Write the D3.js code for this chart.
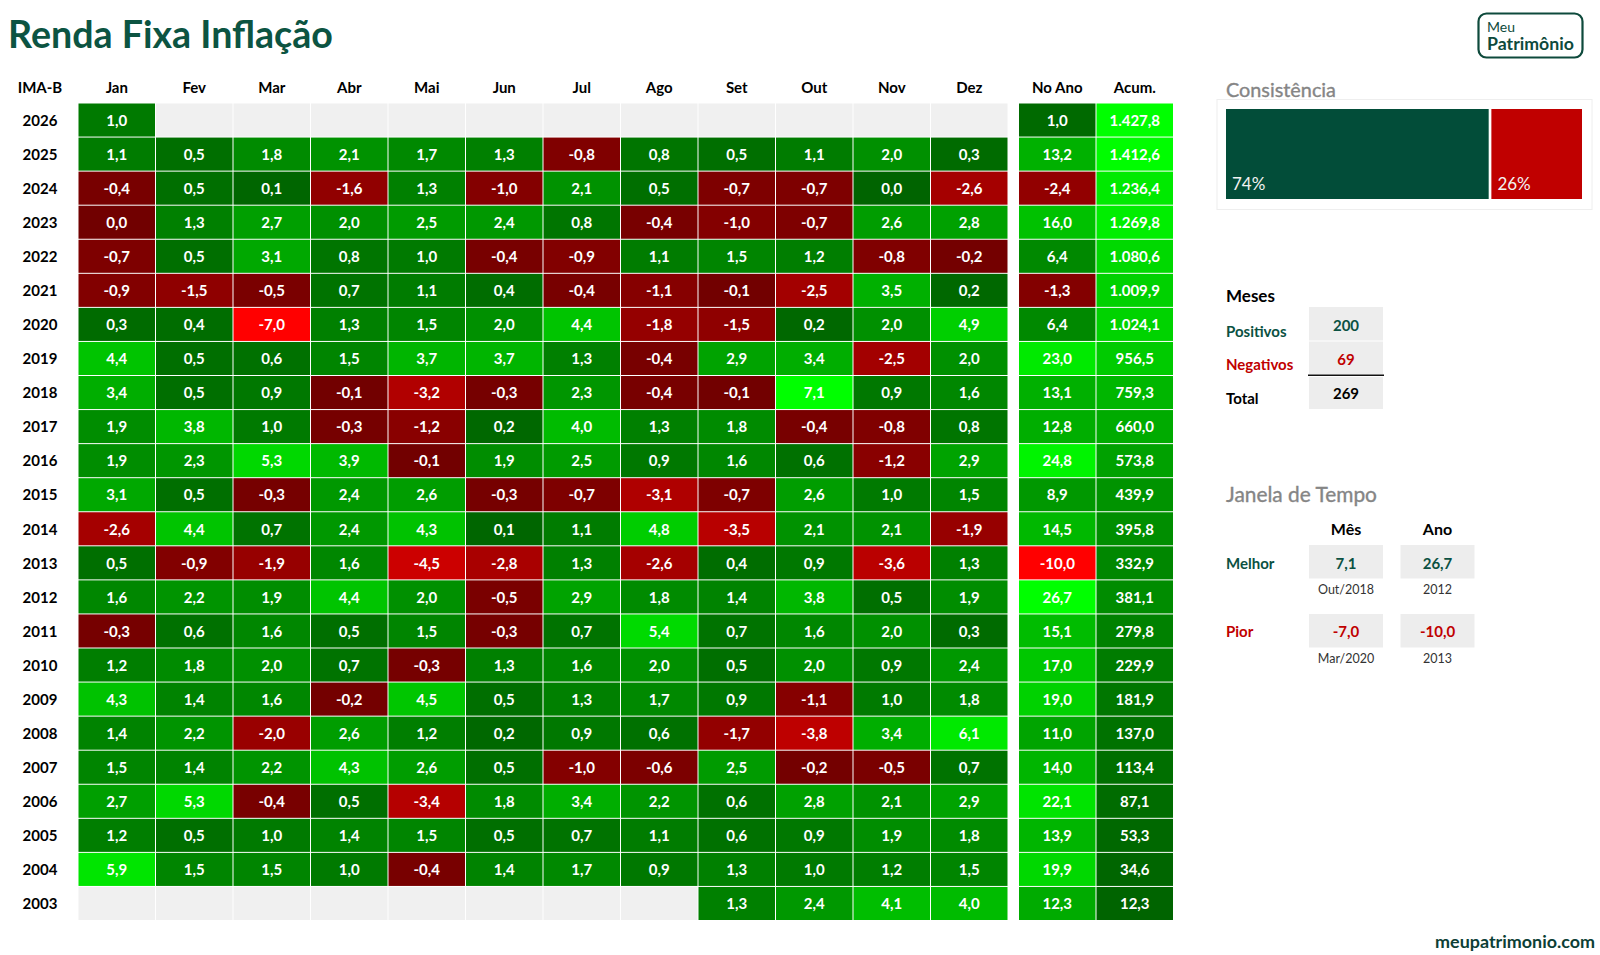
<!DOCTYPE html>
<html><head><meta charset="utf-8">
<script src="https://cdn.jsdelivr.net/npm/d3@7"></script>
<style>
body{margin:0;background:#fff}
svg{display:block;font-family:Lato,"Open Sans",sans-serif}
</style>
</head><body>
<svg id="c" width="1600" height="955"></svg>
<script>
// ---------------- DATA ----------------
const title = "Renda Fixa Inflação";
const indexName = "IMA-B";
const months = ["Jan","Fev","Mar","Abr","Mai","Jun","Jul","Ago","Set","Out","Nov","Dez"];
const extraCols = ["No Ano","Acum."];
const years = [2026,2025,2024,2023,2022,2021,2020,2019,2018,2017,2016,2015,2014,2013,2012,2011,2010,2009,2008,2007,2006,2005,2004,2003];
const monthly = [
  [1.0,null,null,null,null,null,null,null,null,null,null,null],
  [1.1,0.5,1.8,2.1,1.7,1.3,-0.8,0.8,0.5,1.1,2.0,0.3],
  [-0.4,0.5,0.1,-1.6,1.3,-1.0,2.1,0.5,-0.7,-0.7,0.0,-2.6],
  [-0.04,1.3,2.7,2.0,2.5,2.4,0.8,-0.4,-1.0,-0.7,2.6,2.8],
  [-0.7,0.5,3.1,0.8,1.0,-0.4,-0.9,1.1,1.5,1.2,-0.8,-0.2],
  [-0.9,-1.5,-0.5,0.7,1.1,0.4,-0.4,-1.1,-0.1,-2.5,3.5,0.2],
  [0.3,0.4,-7.0,1.3,1.5,2.0,4.4,-1.8,-1.5,0.2,2.0,4.9],
  [4.4,0.5,0.6,1.5,3.7,3.7,1.3,-0.4,2.9,3.4,-2.5,2.0],
  [3.4,0.5,0.9,-0.1,-3.2,-0.3,2.3,-0.4,-0.1,7.1,0.9,1.6],
  [1.9,3.8,1.0,-0.3,-1.2,0.2,4.0,1.3,1.8,-0.4,-0.8,0.8],
  [1.9,2.3,5.3,3.9,-0.1,1.9,2.5,0.9,1.6,0.6,-1.2,2.9],
  [3.1,0.5,-0.3,2.4,2.6,-0.3,-0.7,-3.1,-0.7,2.6,1.0,1.5],
  [-2.6,4.4,0.7,2.4,4.3,0.1,1.1,4.8,-3.5,2.1,2.1,-1.9],
  [0.5,-0.9,-1.9,1.6,-4.5,-2.8,1.3,-2.6,0.4,0.9,-3.6,1.3],
  [1.6,2.2,1.9,4.4,2.0,-0.5,2.9,1.8,1.4,3.8,0.5,1.9],
  [-0.3,0.6,1.6,0.5,1.5,-0.3,0.7,5.4,0.7,1.6,2.0,0.3],
  [1.2,1.8,2.0,0.7,-0.3,1.3,1.6,2.0,0.5,2.0,0.9,2.4],
  [4.3,1.4,1.6,-0.2,4.5,0.5,1.3,1.7,0.9,-1.1,1.0,1.8],
  [1.4,2.2,-2.0,2.6,1.2,0.2,0.9,0.6,-1.7,-3.8,3.4,6.1],
  [1.5,1.4,2.2,4.3,2.6,0.5,-1.0,-0.6,2.5,-0.2,-0.5,0.7],
  [2.7,5.3,-0.4,0.5,-3.4,1.8,3.4,2.2,0.6,2.8,2.1,2.9],
  [1.2,0.5,1.0,1.4,1.5,0.5,0.7,1.1,0.6,0.9,1.9,1.8],
  [5.9,1.5,1.5,1.0,-0.4,1.4,1.7,0.9,1.3,1.0,1.2,1.5],
  [null,null,null,null,null,null,null,null,1.3,2.4,4.1,4.0]
];
const annual = [1.0,13.2,-2.4,16.0,6.4,-1.3,6.4,23.0,13.1,12.8,24.8,8.9,14.5,-10.0,26.7,15.1,17.0,19.0,11.0,14.0,22.1,13.9,19.9,12.3];
const accum = [1427.8,1412.6,1236.4,1269.8,1080.6,1009.9,1024.1,956.5,759.3,660.0,573.8,439.9,395.8,332.9,381.1,279.8,229.9,181.9,137.0,113.4,87.1,53.3,34.6,12.3];
const site = "meupatrimonio.com";

// ---------------- HELPERS ----------------
const loc = d3.formatLocale({decimal:",",thousands:".",grouping:[3],currency:["R$",""],minus:"-"});
const f1 = loc.format(",.1f");
const fmt = v => f1(Math.abs(v) < 0.05 ? 0 : v);
const pct = d3.format(".0%");
const svg = d3.select("#c");
const GREEN0 = "#006400", GREEN1 = "#00ff00", RED0 = "#700000", RED1 = "#ff0000";
function makeColor(vals){
  const mx = d3.max(vals), mn = d3.min(vals);
  const g = d3.scaleLinear().domain([0, mx]).range([GREEN0, GREEN1]);
  const r = d3.scaleLinear().domain([0, Math.min(mn, -0.0001)]).range([RED0, RED1]);
  return v => v < 0 ? r(v) : g(v);
}
function fit(sel, w){
  const n = sel.node(); const fs = parseFloat(sel.attr("font-size"));
  const cur = n.getComputedTextLength();
  if (cur > 0) sel.attr("font-size", (fs * w / cur).toFixed(2));
  return sel;
}

const flat = monthly.flat().filter(v => v !== null);
const mColor = makeColor(flat);
const aColor = makeColor(annual);
const accColor = d3.scaleLinear().domain(d3.extent(accum)).range([GREEN0, GREEN1]);

// ---------------- SCALES ----------------
const x = d3.scaleBand().domain(months).range([78, 1008]);
const x2 = d3.scaleBand().domain(extraCols).range([1018.5, 1173.5]);
const y = d3.scaleBand().domain(years).range([103, 920.5]);
const bw = x.bandwidth(), bh = y.bandwidth();

// ---------------- TITLE ----------------
fit(svg.append("text").attr("x", 8).attr("y", 47.5).attr("font-size", 34).attr("font-weight", 700)
  .attr("fill", "#0c5442").text(title), 325);

// logo
svg.append("rect").attr("x", 1478.5).attr("y", 13.5).attr("width", 104).attr("height", 44).attr("rx", 8)
  .attr("fill", "none").attr("stroke", "#0e4a3c").attr("stroke-width", 2.2);
svg.append("text").attr("x", 1487).attr("y", 31.5).attr("font-size", 14).attr("fill", "#0e4a3c").text("Meu");
fit(svg.append("text").attr("x", 1487).attr("y", 50).attr("font-size", 15).attr("font-weight", 700)
  .attr("fill", "#0e4a3c").text("Patrimônio"), 87);

// ---------------- HEADERS ----------------
svg.append("text").attr("x", 40).attr("y", 92.5).attr("text-anchor", "middle").attr("font-size", 15)
  .attr("font-weight", 700).text(indexName);
svg.selectAll(".mh").data(months).join("text").attr("class", "mh")
  .attr("x", d => x(d) + bw / 2).attr("y", 92.5).attr("text-anchor", "middle")
  .attr("font-size", 15).attr("font-weight", 700).text(d => d);
svg.selectAll(".eh").data(extraCols).join("text").attr("class", "eh")
  .attr("x", d => x2(d) + x2.bandwidth() / 2).attr("y", 92.5).attr("text-anchor", "middle")
  .attr("font-size", 15).attr("font-weight", 700).text(d => d);
svg.selectAll(".yl").data(years).join("text").attr("class", "yl")
  .attr("x", 40).attr("y", d => y(d) + bh / 2 + 0.5).attr("dy", "0.35em").attr("text-anchor", "middle")
  .attr("font-size", 15).attr("font-weight", 700).text(d => d);

// ---------------- MONTH CELLS ----------------
const cells = [];
years.forEach((yr, i) => months.forEach((m, j) => cells.push({yr, m, v: monthly[i][j]})));
const g = svg.append("g");
g.selectAll("rect").data(cells).join("rect")
  .attr("x", d => x(d.m) + 0.5).attr("y", d => y(d.yr) + 0.5)
  .attr("width", bw - 1).attr("height", bh - 1)
  .attr("fill", d => d.v === null ? "#f0f0f0" : mColor(d.v));
g.selectAll("text").data(cells.filter(d => d.v !== null)).join("text")
  .attr("x", d => x(d.m) + bw / 2).attr("y", d => y(d.yr) + bh / 2 + 0.5).attr("dy", "0.35em")
  .attr("text-anchor", "middle").attr("font-size", 15).attr("font-weight", 700).attr("fill", "#fff")
  .text(d => fmt(d.v));

// ---------------- ANNUAL / ACCUM ----------------
const ex = [];
years.forEach((yr, i) => {
  ex.push({yr, c: extraCols[0], v: annual[i], col: aColor(annual[i])});
  ex.push({yr, c: extraCols[1], v: accum[i], col: accColor(accum[i])});
});
const g2 = svg.append("g");
g2.selectAll("rect").data(ex).join("rect")
  .attr("x", d => x2(d.c) + 0.5).attr("y", d => y(d.yr) + 0.5)
  .attr("width", x2.bandwidth() - 1).attr("height", bh - 1).attr("fill", d => d.col);
g2.selectAll("text").data(ex).join("text")
  .attr("x", d => x2(d.c) + x2.bandwidth() / 2).attr("y", d => y(d.yr) + bh / 2 + 0.5).attr("dy", "0.35em")
  .attr("text-anchor", "middle").attr("font-size", 15).attr("font-weight", 700).attr("fill", "#fff")
  .text(d => fmt(d.v));

// ---------------- CONSISTÊNCIA ----------------
const pos = flat.filter(v => v >= 0).length, neg = flat.filter(v => v < 0).length, tot = flat.length;
const GRAY = "#858585", DG = "#0b5142", RD = "#c00000";
fit(svg.append("text").attr("x", 1226).attr("y", 96.5).attr("font-size", 20).attr("fill", GRAY)
  .attr("stroke", GRAY).attr("stroke-width", 0.35).text("Consistência"), 110);
svg.append("rect").attr("x", 1217).attr("y", 99.5).attr("width", 375).attr("height", 110)
  .attr("fill", "none").attr("stroke", "#eeeeee");
const gap = 2.7;
const bx = d3.scaleLinear().domain([0, tot]).range([0, 356 - gap]);
const bars = [
  {n: pos, x0: 1226, col: "#024d39"},
  {n: neg, x0: 1226 + bx(pos) + gap, col: "#c00000"}
];
svg.selectAll(".cb").data(bars).join("rect").attr("class", "cb")
  .attr("x", d => d.x0).attr("y", 109).attr("width", d => bx(d.n)).attr("height", 90).attr("fill", d => d.col);
svg.selectAll(".cl").data(bars).join("text").attr("class", "cl")
  .attr("x", d => d.x0 + 6).attr("y", 190).attr("font-size", 17).attr("fill", "#f2f2f2")
  .text(d => pct(d.n / tot));

// ---------------- MESES ----------------
svg.append("text").attr("x", 1226).attr("y", 301.5).attr("font-size", 17).attr("font-weight", 700).text("Meses");
const meses = [
  {lab: "Positivos", v: pos, col: DG, ly: 336.5, by: 307, bh: 33.5, ty: 330.5},
  {lab: "Negativos", v: neg, col: RD, ly: 370, by: 341.5, bh: 33, ty: 365},
  {lab: "Total", v: tot, col: "#000", ly: 404, by: 377, bh: 32, ty: 399}
];
meses.forEach(d => {
  svg.append("rect").attr("x", 1309).attr("y", d.by).attr("width", 74).attr("height", d.bh).attr("fill", "#ededed");
  svg.append("text").attr("x", 1226).attr("y", d.ly).attr("font-size", 15).attr("font-weight", 700)
    .attr("fill", d.col).text(d.lab);
  svg.append("text").attr("x", 1346).attr("y", d.ty).attr("text-anchor", "middle").attr("font-size", 15)
    .attr("font-weight", 700).attr("fill", d.col).text(d.v);
});
svg.append("line").attr("x1", 1308).attr("x2", 1384).attr("y1", 375.3).attr("y2", 375.3)
  .attr("stroke", "#111").attr("stroke-width", 1.4);

// ---------------- JANELA DE TEMPO ----------------
fit(svg.append("text").attr("x", 1226).attr("y", 502).attr("font-size", 20).attr("fill", GRAY)
  .attr("stroke", GRAY).attr("stroke-width", 0.35).text("Janela de Tempo"), 151);
let best = {v: -Infinity}, worst = {v: Infinity};
cells.forEach(d => { if (d.v === null) return; if (d.v > best.v) best = d; if (d.v < worst.v) worst = d; });
const bi = d3.maxIndex(annual), wi = d3.minIndex(annual);
const colsJ = [{h: "Mês", cx: 1346}, {h: "Ano", cx: 1437.5}];
colsJ.forEach(c => svg.append("text").attr("x", c.cx).attr("y", 535).attr("text-anchor", "middle")
  .attr("font-size", 16).attr("font-weight", 700).text(c.h));
const janela = [
  {lab: "Melhor", col: DG, ly: 569, by: 545, vals: [fmt(best.v), fmt(annual[bi])], subs: [best.m + "/" + best.yr, String(years[bi])], sy: 594},
  {lab: "Pior", col: RD, ly: 637, by: 614, vals: [fmt(worst.v), fmt(annual[wi])], subs: [worst.m + "/" + worst.yr, String(years[wi])], sy: 662.5}
];
janela.forEach(r => {
  svg.append("text").attr("x", 1226).attr("y", r.ly).attr("font-size", 15).attr("font-weight", 700)
    .attr("fill", r.col).text(r.lab);
  colsJ.forEach((c, k) => {
    svg.append("rect").attr("x", c.cx - 37).attr("y", r.by).attr("width", 74).attr("height", 33.5).attr("fill", "#ededed");
    svg.append("text").attr("x", c.cx).attr("y", r.ly).attr("text-anchor", "middle").attr("font-size", 15)
      .attr("font-weight", 700).attr("fill", r.col).text(r.vals[k]);
    svg.append("text").attr("x", c.cx).attr("y", r.sy).attr("text-anchor", "middle").attr("font-size", 12.5)
      .attr("fill", "#333").text(r.subs[k]);
  });
});

// ---------------- FOOTER ----------------
const ft = svg.append("text").attr("x", 1595).attr("y", 947.5).attr("text-anchor", "end")
  .attr("font-size", 16).attr("font-weight", 700).attr("fill", "#0d3f36").text(site);
fit(ft, 160);
</script>
</body></html>
